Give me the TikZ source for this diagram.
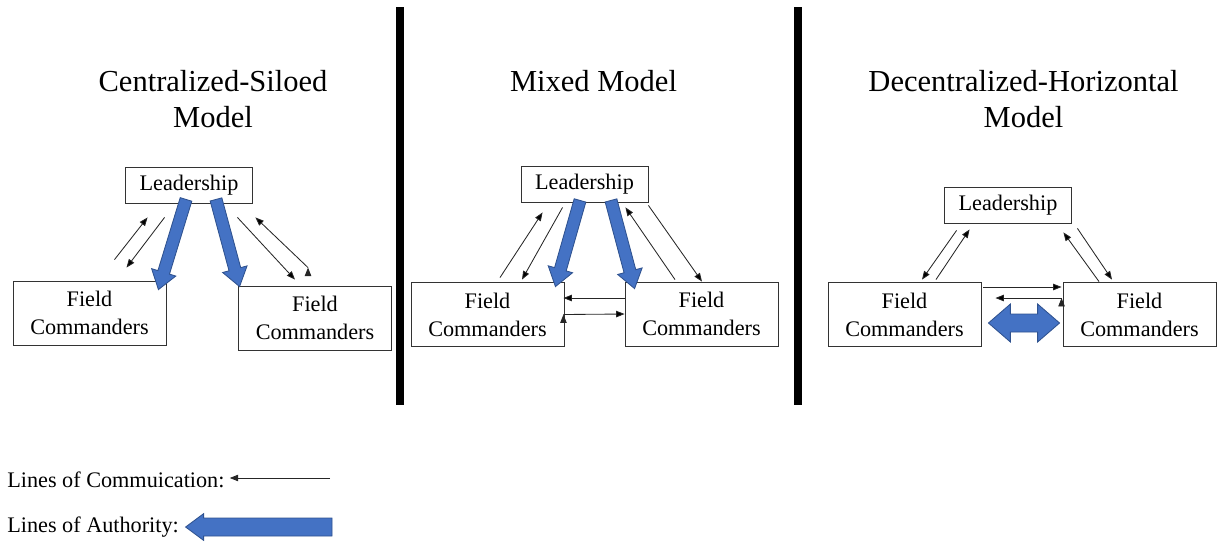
\documentclass[tikz,border=0pt]{standalone}
\usepackage{fontspec}
\setmainfont{Liberation Serif}
\usetikzlibrary{arrows.meta,calc}
\definecolor{authfill}{HTML}{4472C4}
\definecolor{authline}{HTML}{2F528F}

% tail, tip, half shaft, half head, head length
\newcommand{\authorityarrow}[5]{%
  \coordinate (#1-h) at ($(#2)!#5!(#1)$);
  \filldraw[authority] ($(#1)!#3!90:(#2)$) -- ($(#1-h)!#3!90:(#2)$) -- ($(#1-h)!#4!90:(#2)$) -- (#2)
    -- ($(#1-h)!#4!-90:(#2)$) -- ($(#1-h)!#3!-90:(#2)$) -- ($(#1)!#3!-90:(#2)$) -- cycle;}
\newcommand{\authoritydouble}[5]{%
  \coordinate (#1-h) at ($(#1)!#5!(#2)$);
  \coordinate (#2-h) at ($(#2)!#5!(#1)$);
  \filldraw[authority] (#1) -- ($(#1-h)!#4!90:(#2)$) -- ($(#1-h)!#3!90:(#2)$) -- ($(#2-h)!#3!90:(#2)$)
    -- ($(#2-h)!#4!90:(#2)$) -- (#2) -- ($(#2-h)!#4!-90:(#2)$) -- ($(#2-h)!#3!-90:(#2)$)
    -- ($(#1-h)!#3!-90:(#2)$) -- ($(#1-h)!#4!-90:(#2)$) -- cycle;}

\begin{document}
\begin{tikzpicture}[x=0.025cm,y=-0.025cm,
    box/.style={draw=black!80,line width=0.6pt,align=center,inner sep=2pt,font=\fontsize{15.8}{20}\selectfont},
    leadbox/.style={box,minimum width=3.175cm,minimum height=0.9cm},
    fieldbox/.style={box,minimum width=3.825cm,minimum height=1.6cm},
    title/.style={align=center,font=\fontsize{21.7}{25.6}\selectfont},
    comm/.style={-{Triangle[length=6pt,width=4.6pt]},line width=0.6pt,draw=black!85},
    authority/.style={fill=authfill,draw=authline,line width=0.6pt},
    legend/.style={anchor=west,inner sep=0pt,font=\fontsize{15.8}{20}\selectfont}]
    \useasboundingbox (0,0) rectangle (1217,541);

    % separators
    \draw[line width=0.2cm] (400,7) -- (400,405);
    \draw[line width=0.2cm] (798,7) -- (798,405);

    % titles
    \node[title] (t1) at (213,99.5) {Centralized-Siloed\\Model};
    \node[title] (t2) at (593.5,81.5) {Mixed Model};
    \node[title] (t3) at (1023.5,99.5) {Decentralized-Horizontal\\Model};

    % centralized-siloed
    \node[leadbox] (lead1) at (189,185) {Leadership};
    \node[fieldbox] (fcl1) at (89.5,313) {Field\\Commanders};
    \node[fieldbox] (fcr1) at (315,318) {Field\\Commanders};

    \path[comm]
        ([shift={(25,-21)}]fcl1.north) edge ([shift={(22.5,14)}]lead1.south west)
        ([shift={(39.5,14)}]lead1.south west) edge ([shift={(37,-13)}]fcl1.north)
        ([shift={(-15.5,14)}]lead1.south east) edge ([shift={(-20,-6)}]fcr1.north)
        ([shift={(-7,-18)}]fcr1.north) edge ([shift={(2.5,14)}]lead1.south east)
        ;

    \coordinate (au1) at ([shift={(-3,-4)}]lead1.south);
    \coordinate (ad1) at ([shift={(-8,9)}]fcl1.north east);
    \coordinate (au2) at ([shift={(27,-4)}]lead1.south);
    \coordinate (ad2) at ([shift={(1.5,1)}]fcr1.north west);
    \authorityarrow{au1}{ad1}{4.3pt}{9pt}{12.8pt}
    \authorityarrow{au2}{ad2}{4.3pt}{9pt}{12.8pt}

    % mixed
    \node[leadbox] (lead2) at (584.5,184.5) {Leadership};
    \node[fieldbox] (fcl2) at (487.5,314.5) {Field\\Commanders};
    \node[fieldbox] (fcr2) at (701.5,314) {Field\\Commanders};

    \path[comm]
        ([shift={(12.5,-4.5)}]fcl2.north) edge ([shift={(22,9.5)}]lead2.south west)
        ([shift={(42,4.5)}]lead2.south west) edge ([shift={(34.5,-2.5)}]fcl2.north)
        ([shift={(-26.5,-2)}]fcr2.north) edge ([shift={(-23,4.5)}]lead2.south east)
        ([shift={(0,2.5)}]lead2.south east) edge ([shift={(0.5,0)}]fcr2.north)
        ([shift={(0,-16)}]fcr2.west) edge ([shift={(-1,-16.5)}]fcl2.east)
        ([shift={(-1,0)}]fcl2.east) edge ([shift={(0,0)}]fcr2.west)
        ;

    \coordinate (au3) at ([shift={(-4.5,-2.5)}]lead2.south);
    \coordinate (ad3) at ([shift={(-9,4.5)}]fcl2.north east);
    \coordinate (au4) at ([shift={(26.5,-2.5)}]lead2.south);
    \coordinate (ad4) at ([shift={(10,7)}]fcr2.north west);
    \authorityarrow{au3}{ad3}{4.3pt}{9pt}{12.8pt}
    \authorityarrow{au4}{ad4}{4.3pt}{9pt}{12.8pt}

    % decentralized-horizontal
    \node[leadbox] (lead3) at (1008,205) {Leadership};
    \node[fieldbox] (fcl3) at (904.5,314.5) {Field\\Commanders};
    \node[fieldbox] (fcr3) at (1139.5,314.5) {Field\\Commanders};

    \path[comm]
        ([shift={(12.5,7)}]lead3.south west) edge ([shift={(17.5,-2.5)}]fcl3.north)
        ([shift={(31.5,-2.5)}]fcl3.north) edge ([shift={(25.5,6)}]lead3.south west)
        ([shift={(-40.5,-0.5)}]fcr3.north) edge ([shift={(-8.5,9)}]lead3.south east)
        ([shift={(5.5,5)}]lead3.south east) edge ([shift={(-27.5,-2.5)}]fcr3.north)
        ([shift={(2,-27.5)}]fcl3.east) edge ([shift={(-1,-27.5)}]fcr3.west)
        ([shift={(-1,-16.5)}]fcr3.west) edge ([shift={(14,-16.5)}]fcl3.east)
        ;

    \coordinate (hl3) at ([shift={(7,8.5)}]fcl3.east);
    \coordinate (hr3) at ([shift={(-3,8.5)}]fcr3.west);
    \authoritydouble{hl3}{hr3}{6.4pt}{13.5pt}{15.6pt}

    % legend
    \node[legend] (leg1) at (7,480) {Lines of Commuication:};
    \node[legend] (leg2) at (7,527) {Lines of Authority:};
    \coordinate (legc) at (330,478);
    \coordinate (lega) at (332,527);
    \draw[comm] (legc) -- ([shift={(5,-2)}]leg1.east);
    \coordinate (legt) at ([shift={(6.5,0)}]leg2.east);
    \authorityarrow{lega}{legt}{6.4pt}{9.5pt}{12.8pt}
\end{tikzpicture}
\end{document}
